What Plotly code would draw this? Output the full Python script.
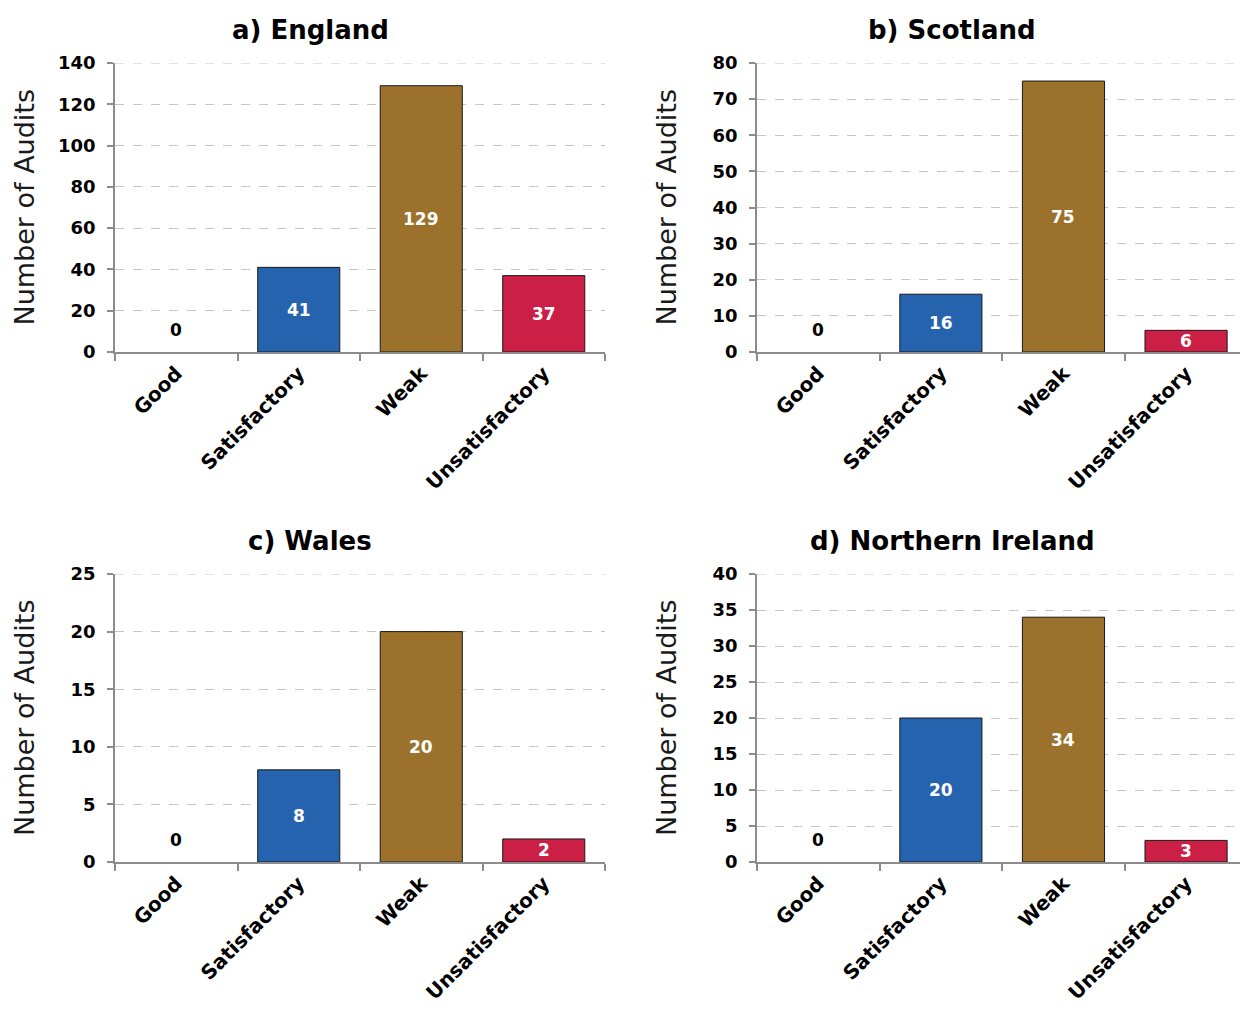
import plotly.graph_objects as go

categories = ["Good", "Satisfactory", "Weak", "Unsatisfactory"]
england = [0, 41, 129, 37]
scotland = [0, 16, 75, 6]
wales = [0, 8, 20, 2]
northern_ireland = [0, 20, 34, 3]
titles = ["a) England", "b) Scotland", "c) Wales", "d) Northern Ireland"]
y_max = [140, 80, 25, 40]
y_step = [20, 10, 5, 5]
bar_colors = ["#2563AE", "#2563AE", "#9C712B", "#CC1F45"]

FONT = "Verdana, DejaVu Sans, sans-serif"
W, H = 1240, 1011
GRID = "#c6c6c6"

panels = [england, scotland, wales, northern_ireland]
# pixel boxes of plot areas (left, right, top, bottom)
boxes = [(115, 605, 63, 352), (757, 1240, 63, 352), (115, 605, 574, 862), (757, 1240, 574, 862)]
x_ranges = [[-0.5, 3.5], [-0.5, 3.44], [-0.5, 3.5], [-0.5, 3.44]]

fig = go.Figure()
annotations = []
shapes = []
for i, vals in enumerate(panels):
    n = "" if i == 0 else str(i + 1)
    xa, ya = "x" + n, "y" + n
    fig.add_trace(go.Bar(
        x=categories, y=vals, xaxis=xa, yaxis=ya,
        marker=dict(color=bar_colors,
                    line=dict(color="#1a1a1a", width=[1 if v > 0 else 0 for v in vals])),
        width=0.67, showlegend=False, hoverinfo="x+y",
    ))
    l, r, t, b = boxes[i]
    fig.update_layout(**{
        "xaxis" + n: dict(
            domain=[l / W, r / W], range=x_ranges[i], anchor=ya, automargin=False,
            showline=True, linecolor="#8c8c8c", linewidth=1.5,
            ticks="outside", ticklen=7, tickcolor="#8c8c8c", tickwidth=1.5,
            tickson="boundaries", tickangle=-45, showgrid=False,
            tickfont=dict(family=FONT, size=20, color="black", weight="bold"),
            fixedrange=True,
        ),
        "yaxis" + n: dict(
            domain=[1 - b / H, 1 - t / H], range=[0, y_max[i]], dtick=y_step[i],
            anchor=xa, automargin=False, showline=True, linecolor="#8c8c8c", linewidth=1.5,
            ticks="outside", ticklen=6, tickcolor="#8c8c8c", tickwidth=1.5,
            ticklabelstandoff=8,
            showgrid=True, gridcolor=GRID, griddash="dash", gridwidth=1,
            zeroline=False,
            tickfont=dict(family=FONT, size=18, color="black", weight="bold"),
            fixedrange=True,
        ),
    })
    # top gridline (plotly skips gridlines at the range edge)
    shapes.append(dict(
        type="line", xref=xa + " domain", x0=0, x1=1, yref=ya, y0=y_max[i], y1=y_max[i],
        line=dict(color=GRID, width=1, dash="dash"), layer="below",
    ))
    # panel title
    annotations.append(dict(
        text="<b>" + titles[i] + "</b>", x=(l - 115 + 310) / W, y=1 - (t - 33) / H,
        xref="paper", yref="paper", xanchor="center", yanchor="middle",
        showarrow=False, font=dict(family=FONT, size=26, color="black"),
    ))
    # y axis title
    annotations.append(dict(
        text="Number of Audits", x=(l - 115 + 24) / W, y=1 - (t + b) / 2 / H,
        xref="paper", yref="paper", xanchor="center", yanchor="middle",
        textangle=-90, showarrow=False,
        font=dict(family=FONT, size=27, color="#1a1a1a"),
    ))
    # data labels
    for c, v in zip(categories, vals):
        annotations.append(dict(
            text="<b>" + str(v) + "</b>", x=c, y=v / 2 if v > 0 else 0,
            xref=xa, yref=ya, yshift=0 if v > 0 else 22, showarrow=False,
            font=dict(family=FONT, size=17, color="white" if v > 0 else "black"),
        ))

fig.update_layout(
    width=W, height=H, margin=dict(l=0, r=0, t=0, b=0, autoexpand=False),
    paper_bgcolor="white", plot_bgcolor="white",
    annotations=annotations, shapes=shapes, bargap=0.33,
)

fig.write_html(
    "out.html",
    config={"displayModeBar": False},
    post_script="document.body.style.margin='0';document.body.style.overflow='hidden';",
)
